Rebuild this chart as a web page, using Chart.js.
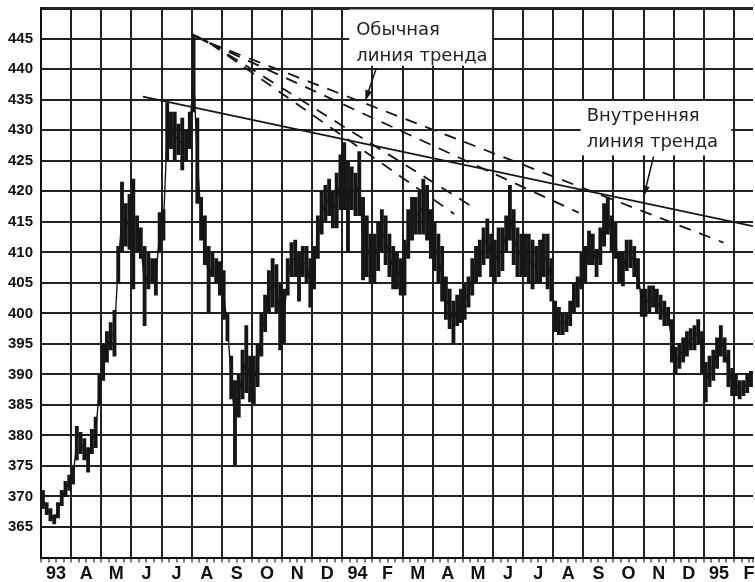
<!DOCTYPE html>
<html><head><meta charset="utf-8">
<script src="https://cdn.jsdelivr.net/npm/chart.js@4.4.1/dist/chart.umd.min.js"></script>
<style>html,body{margin:0;padding:0;background:#fff;}canvas{display:block}</style>
</head><body>
<canvas id="c" width="755" height="582"></canvas>
<script>
// ---- data ----
const monthLabels = ['93','A','M','J','J','A','S','O','N','D','94','F','M','A','M','J','J','A','S','O','N','D','95','F'];
const yTickValues = [365,370,375,380,385,390,395,400,405,410,415,420,425,430,435,440,445];
const barsPerMonth = 8;
const priceHigh = [
 371,369,368,367,369,371,372.5,373.5,
 375,381.5,380.5,379.5,378,381,383,390,
 395,397,398.5,400.5,411,421.5,418,419.5,
 422,416,414,411,410,409,409,416.5,
 417,434.5,433,433,431,432,430,433,
 445.5,432,419,416,411,410,409,408.5,
 407,400,393,389,390,394,398,393,
 393,395,400,403,407,409,408,405,
 404,409,411.6,412,410,411,411,409,
 411,416,420,421,422,420,423,426,
 428,425,424,423,426.5,419,416,413,
 413,415,417,416,413,411,410,409,
 412,417,419,419,420,422,421,417,
 415,413,411,406,404,402,403,404,
 405,406,409,411,412,414,415.5,413,
 412,414,414,416,421,417,414,413,
 413,413,412,411,412,413,413,409,
 402,401,400,400,402,405,406,410,
 411,413.5,413,410.5,414,418,419,416,
 415,410,410,412,412,411,409,404,
 404,404.5,404.5,404,403,402,401,399,
 394.5,395,396,397,397.5,398,399,397,
 392,393,394,396,398,396,394,391,
 390,389,389,390,390.5];
const priceLow = [
 368,367,366,365.5,366.5,368.5,370,371,
 372,376,377,376,374,377,378,385,
 389,392,394,393,405,410,411,410.5,
 404,410,409,398,404,405,403,410,
 412,425,427,425,426,423.5,425,427,
 433,418,412,408,400,406,405,403,
 399,395.5,386,375,383,386,387,385.5,
 385,388,393,397,400,401,400,394,
 395,403,406,406,402,406,405,401,
 404,409,413,415,416,414,414,417,
 417,410,417,416,416,405.5,406,405,
 405,407,410,408,406,404,404,403,
 403,409,412,413,413,413,412,409,
 407,405,402,399,397.5,395,398,398.5,
 399,401,403,405,406,408,409,406,
 405,406,407,410,412,408,406,406,
 406,405,404,405,405,406,404,402,
 397,396.5,396.5,397,398,400,401,404,
 405,408,408,406,408,411,413,410,
 409,405,404.5,407,407.5,406,404,399.5,
 399.5,400,401,400,399,398,398,392,
 390,391,392,393,394,394,395,390,
 385.5,388,389,391,393,392,388,386.5,
 386.5,386,386.5,387,388];
// trend lines (month index, price)
const innerTrendLine = [{x:3.38,y:435.5},{x:23.63,y:414.3}];
const peakStub = [{x:5.03,y:445.7},{x:5.55,y:444.4}];
const fanOrigin = {x:5.6,y:444.3};
const usualTrendEnds = [{x:22.65,y:411.6},{x:17.85,y:416.5},{x:14.47,y:417.0},{x:13.71,y:416.3}];
const noteUsual = ['Обычная','линия тренда'];
const noteInner = ['Внутренняя','линия тренда'];

// ---- build ----
const X_MAX = 23.63;
const barX = priceHigh.map((h,i)=>(i+0.5)/barsPerMonth);
const barData = priceHigh.map((h,i)=>({x:barX[i], y:[priceLow[i],h]}));
const midData = priceHigh.map((h,i)=>({x:barX[i], y:(h+priceLow[i])/2}));
const ink = '#161616';

const datasets = [
 {type:'bar', data:barData, backgroundColor:ink, borderWidth:0, barThickness:3.2, order:5},
 {type:'line', data:midData, borderColor:ink, borderWidth:1.4, pointRadius:0, fill:false, order:4},
 {type:'line', data:innerTrendLine, borderColor:ink, borderWidth:1.8, pointRadius:0, fill:false, order:1},
 {type:'line', data:peakStub, borderColor:ink, borderWidth:2.5, pointRadius:0, fill:false, order:1}
];
usualTrendEnds.forEach(e=>{
 datasets.push({type:'line', data:[fanOrigin,e], borderColor:ink, borderWidth:1.8, borderDash:[12,9], pointRadius:0, fill:false, order:1});
});

const notesPlugin = {
 id:'notes',
 beforeDatasetsDraw(chart){
  const {ctx, scales:{x,y}} = chart;
  const boxes = [
   {x0:10.23,x1:14.97,y0:449.8,y1:440.6, tx:10.46, base:[445.66,441.4], lines:noteUsual},
   {x0:17.91,x1:22.91,y0:434.8,y1:425.9, tx:18.11, base:[431.56,427.3], lines:noteInner}
  ];
  ctx.save();
  boxes.forEach(b=>{
   const px0=x.getPixelForValue(b.x0), px1=x.getPixelForValue(b.x1);
   const py0=y.getPixelForValue(b.y0), py1=y.getPixelForValue(b.y1);
   ctx.fillStyle='#fff';
   ctx.fillRect(px0,py0,px1-px0,py1-py0);
   ctx.fillStyle='#222';
   ctx.font='18px "DejaVu Sans"';
   ctx.textAlign='left';
   ctx.textBaseline='alphabetic';
   b.lines.forEach((t,i)=>ctx.fillText(t, x.getPixelForValue(b.tx), y.getPixelForValue(b.base[i])));
  });
  ctx.restore();
 },
 afterDatasetsDraw(chart){
  const {ctx, scales:{x,y}} = chart;
  const arrows = [
   {from:{x:11.13,y:440.2}, to:{x:10.76,y:434.8}},
   {from:{x:20.33,y:425.7}, to:{x:20.0,y:419.1}}
  ];
  ctx.save();
  ctx.strokeStyle=ink; ctx.fillStyle=ink; ctx.lineWidth=1.5;
  arrows.forEach(a=>{
   const x1=x.getPixelForValue(a.from.x), y1=y.getPixelForValue(a.from.y);
   const x2=x.getPixelForValue(a.to.x), y2=y.getPixelForValue(a.to.y);
   const ang=Math.atan2(y2-y1,x2-x1);
   ctx.beginPath(); ctx.moveTo(x1,y1); ctx.lineTo(x2-6*Math.cos(ang),y2-6*Math.sin(ang)); ctx.stroke();
   ctx.beginPath();
   ctx.moveTo(x2,y2);
   ctx.lineTo(x2-11*Math.cos(ang)+3.5*Math.sin(ang), y2-11*Math.sin(ang)-3.5*Math.cos(ang));
   ctx.lineTo(x2-11*Math.cos(ang)-3.5*Math.sin(ang), y2-11*Math.sin(ang)+3.5*Math.cos(ang));
   ctx.closePath(); ctx.fill();
  });
  ctx.restore();
 }
};

new Chart(document.getElementById('c'), {
 type:'bar',
 data:{datasets},
 plugins:[notesPlugin],
 options:{
  responsive:false, animation:false, devicePixelRatio:1,
  layout:{padding:{left:8,top:0,right:0,bottom:-3.5}},
  plugins:{legend:{display:false}, tooltip:{enabled:false}},
  scales:{
   x:{type:'linear', position:'bottom', min:0, max:X_MAX, offset:false,
     afterBuildTicks(scale){
       const t=[]; for(let k=0;k<=monthLabels.length*4-2;k++) t.push({value:k/4});
       t.push({value:X_MAX}); scale.ticks=t;
     },
     ticks:{autoSkip:false, maxRotation:0, minRotation:0, padding:2, color:'#111',
       font:{family:'"Liberation Sans", Arial, sans-serif', size:18, weight:'bold', lineHeight:1.055},
       callback(v){ const f=Math.floor(v); return Math.abs(v-f-0.5)<1e-6 ? (monthLabels[f]||'') : ''; }},
     grid:{offset:false, color:c=> (c.tick && Number.isInteger(c.tick.value)) ? '#222' : 'rgba(0,0,0,0)',
       tickColor:'#222', lineWidth:2, tickWidth:1.2, tickLength:5, drawTicks:true},
     border:{display:true, color:'#111', width:2}
   },
   y:{type:'linear', min:360, max:450,
     afterBuildTicks(scale){ scale.ticks=[360,...yTickValues,450].map(v=>({value:v})); },
     ticks:{padding:0, color:'#111',
       font:{family:'"Liberation Sans", Arial, sans-serif', size:15, weight:'bold', lineHeight:1.1},
       callback(v){ return yTickValues.includes(v) ? String(v) : ''; }},
     grid:{color:'#222', lineWidth:c=> (c.tick && c.tick.value===450) ? 3 : 2, drawTicks:true, tickLength:8, tickColor:'rgba(0,0,0,0)'},
     border:{display:true, color:'#111', width:2}
   }
  }
 }
});
</script>
</body></html>
